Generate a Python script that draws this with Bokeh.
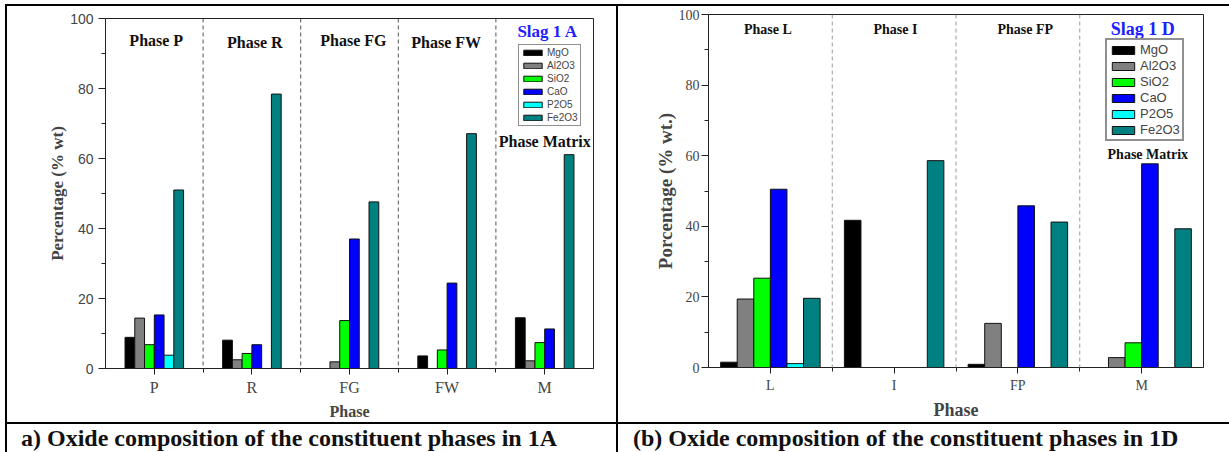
from bokeh.plotting import figure
from bokeh.models import (Range1d, FixedTicker, Span, Legend, LegendItem,
                          Div, Label)
from bokeh.layouts import row, column
from bokeh.embed import file_html
from bokeh.resources import INLINE

# ---------------- data ----------------
oxides = ["MgO", "Al2O3", "SiO2", "CaO", "P2O5", "Fe2O3"]
oxide_colors = ["#000000", "#808080", "#00ff00", "#0000ff", "#00ffff", "#008080"]

phases_1a = ["P", "R", "FG", "FW", "M"]
phase_titles_1a = ["Phase P", "Phase R", "Phase FG", "Phase FW", "Phase Matrix"]
mgo_1a = [8.9, 8.1, 0.0, 3.6, 14.5]
al2o3_1a = [14.4, 2.5, 1.9, 0.0, 2.2]
sio2_1a = [6.8, 4.3, 13.7, 5.3, 7.4]
cao_1a = [15.3, 6.8, 37.0, 24.4, 11.3]
p2o5_1a = [3.8, 0.0, 0.0, 0.0, 0.0]
fe2o3_1a = [51.0, 78.4, 47.6, 67.1, 61.1]

phases_1d = ["L", "I", "FP", "M"]
phase_titles_1d = ["Phase L", "Phase I", "Phase FP", "Phase Matrix"]
mgo_1d = [1.5, 41.7, 0.9, 0.0]
al2o3_1d = [19.4, 0.0, 12.5, 2.8]
sio2_1d = [25.3, 0.0, 0.0, 7.0]
cao_1d = [50.5, 0.0, 45.8, 57.7]
p2o5_1d = [1.1, 0.0, 0.0, 0.0]
fe2o3_1d = [19.6, 58.6, 41.2, 39.3]

y_ticks = [0, 20, 40, 60, 80, 100]
y_minor = [10, 30, 50, 70, 90]

SERIF = "Liberation Serif"
SANS = "Liberation Sans"


def panel(phases, series, W, H, mb, bar_w, cfg):
    n = len(phases)
    p = figure(width=W, height=H, output_backend="svg", toolbar_location=None,
               x_range=Range1d(0.5, n + 0.5), y_range=Range1d(0, 100),
               min_border_left=mb[0], min_border_right=mb[1],
               min_border_top=mb[2], min_border_bottom=mb[3],
               background_fill_color="white", border_fill_color="white")
    p.title.visible = False
    p.xgrid.visible = False
    p.ygrid.visible = False
    p.outline_line_color = "#222222"
    p.outline_line_width = 1

    # separators between phases
    for i in range(1, n):
        p.add_layout(Span(location=i + 0.5, dimension="height",
                          line_color=cfg["sep_color"], line_dash="4 3", line_width=1))

    renderers = []
    for k, (vals, col) in enumerate(zip(series, oxide_colors)):
        xs = [i + 1 + (k - 2.5) * bar_w for i in range(n)]
        r = p.vbar(x=xs, top=vals, width=bar_w, bottom=0,
                   fill_color=col, line_color="#111111", line_width=1)
        renderers.append(r)

    # x axis
    xa = p.xaxis[0]
    xa.ticker = FixedTicker(ticks=list(range(1, n + 1)),
                            minor_ticks=[i + 0.5 for i in range(1, n)])
    xa.major_label_overrides = {i + 1: c for i, c in enumerate(phases)}
    xa.major_tick_out = 6
    xa.major_tick_in = 0
    xa.minor_tick_out = 4
    xa.minor_tick_in = 0
    xa.major_label_text_font = SERIF
    xa.major_label_text_font_size = cfg["xtick_size"]
    xa.major_label_standoff = cfg["xtick_standoff"]
    xa.axis_label = "Phase"
    xa.axis_label_text_font = SERIF
    xa.axis_label_text_font_style = "bold"
    xa.axis_label_text_font_size = cfg["xlabel_size"]
    xa.axis_label_standoff = cfg["xlabel_standoff"]
    xa.axis_line_color = "#222222"
    xa.major_tick_line_color = "#222222"
    xa.minor_tick_line_color = "#222222"

    # y axis
    ya = p.yaxis[0]
    ya.ticker = FixedTicker(ticks=y_ticks, minor_ticks=y_minor)
    ya.major_tick_out = 7
    ya.major_tick_in = 0
    ya.minor_tick_out = 4
    ya.minor_tick_in = 0
    ya.major_label_text_font = cfg["ytick_font"]
    ya.major_label_text_font_size = cfg["ytick_size"]
    ya.major_label_standoff = cfg["ytick_standoff"]
    ya.axis_label = cfg["ylabel"]
    ya.axis_label_text_font = SERIF
    ya.axis_label_text_font_style = "bold"
    ya.axis_label_text_font_size = cfg["ylabel_size"]
    ya.axis_label_standoff = cfg["ylabel_standoff"]
    ya.axis_line_color = "#222222"
    ya.major_tick_line_color = "#222222"
    ya.minor_tick_line_color = "#222222"

    # phase titles
    for (tx, ty, tt) in cfg["titles"]:
        p.add_layout(Label(x=tx, y=ty, text=tt, text_font=SERIF, text_font_style="bold",
                           text_font_size=cfg["title_size"], text_align="center",
                           text_baseline="middle", text_color="#111111"))
    sx, sy, st = cfg["slag"]
    p.add_layout(Label(x=sx, y=sy, text=st, text_font=SERIF, text_font_style="bold",
                       text_font_size=cfg["slag_size"], text_align="center",
                       text_baseline="middle", text_color="#2020ff"))

    legend = Legend(items=[LegendItem(label=o, renderers=[r]) for o, r in zip(oxides, renderers)],
                    location=cfg["leg_loc"], orientation="vertical",
                    label_text_font=SANS, label_text_font_size=cfg["leg_font"],
                    glyph_width=cfg["leg_gw"], glyph_height=cfg["leg_gh"],
                    label_height=cfg["leg_lh"], label_standoff=3,
                    spacing=cfg["leg_sp"], padding=cfg["leg_pad"], margin=0,
                    border_line_color="#222222", border_line_width=cfg["leg_bw"],
                    background_fill_color="white", background_fill_alpha=1.0)
    p.add_layout(legend)
    return p


series_1a = [mgo_1a, al2o3_1a, sio2_1a, cao_1a, p2o5_1a, fe2o3_1a]
series_1d = [mgo_1d, al2o3_1d, sio2_1d, cao_1d, p2o5_1d, fe2o3_1d]

cfg_a = dict(sep_color="#555555", xtick_size="16px", xtick_standoff=4,
             xlabel_size="16px", xlabel_standoff=4,
             ytick_font=SANS, ytick_size="14px", ytick_standoff=5,
             ylabel="Percentage (% wt)", ylabel_size="17px", ylabel_standoff=0,
             titles=[(1.02, 93.7, phase_titles_1a[0]), (2.03, 93.1, phase_titles_1a[1]),
                     (3.04, 93.7, phase_titles_1a[2]), (3.99, 93.1, phase_titles_1a[3]),
                     (5.0, 65.0, phase_titles_1a[4])],
             title_size="16px", slag=(5.03, 96.2, "Slag 1 A"), slag_size="17px",
             leg_loc=(413, 242), leg_font="10px", leg_gw=23, leg_gh=7, leg_lh=10,
             leg_sp=2, leg_pad=2, leg_bw=1)

cfg_d = dict(sep_color="#9a9a9a", xtick_size="14px", xtick_standoff=4,
             xlabel_size="18px", xlabel_standoff=4,
             ytick_font=SERIF, ytick_size="14px", ytick_standoff=2,
             ylabel="Porcentage (% wt.)", ylabel_size="19px", ylabel_standoff=0,
             titles=[(0.98, 95.8, phase_titles_1d[0]), (2.01, 95.8, phase_titles_1d[1]),
                     (3.06, 95.8, phase_titles_1d[2]), (4.05, 60.2, phase_titles_1d[3])],
             title_size="14px", slag=(4.01, 96.0, "Slag 1 D"), slag_size="18px",
             leg_loc=(397, 226), leg_font="13px", leg_gw=28, leg_gh=10, leg_lh=13,
             leg_sp=1, leg_pad=2, leg_bw=2)

PH = 416
p1 = panel(phases_1a, series_1a, 609, PH, (98, 23, 12, 54), 0.1, cfg_a)
p2 = panel(phases_1d, series_1d, 611, PH, (90, 26, 8, 54), 0.134, cfg_d)


def blk(w, h, color="black"):
    return Div(text="", width=w, height=h, margin=0,
               styles={"background-color": color})


def caption(txt, w, pad):
    html = ('<div style="font-family:\'Liberation Serif\';font-weight:bold;font-size:24px;'
            'line-height:28px;white-space:nowrap;padding-left:%dpx;color:#111">%s</div>' % (pad, txt))
    return Div(text=html, width=w, height=28, margin=0)


cap1 = caption("a) Oxide composition of the constituent phases in 1A", 609, 14)
cap2 = caption("(b) Oxide composition of the constituent phases in 1D", 611, 15)

layout = column(
    blk(1229, 4, "white"),
    row(blk(5, 2, "white"), blk(1224, 2)),
    row(blk(5, PH, "white"), blk(2, PH), column(p1), blk(2, PH), column(p2)),
    row(blk(5, 2, "white"), blk(1224, 2)),
    row(blk(5, 28, "white"), blk(2, 28), cap1, blk(2, 28), cap2),
)

open("out.html", "w").write(file_html(layout, INLINE))
